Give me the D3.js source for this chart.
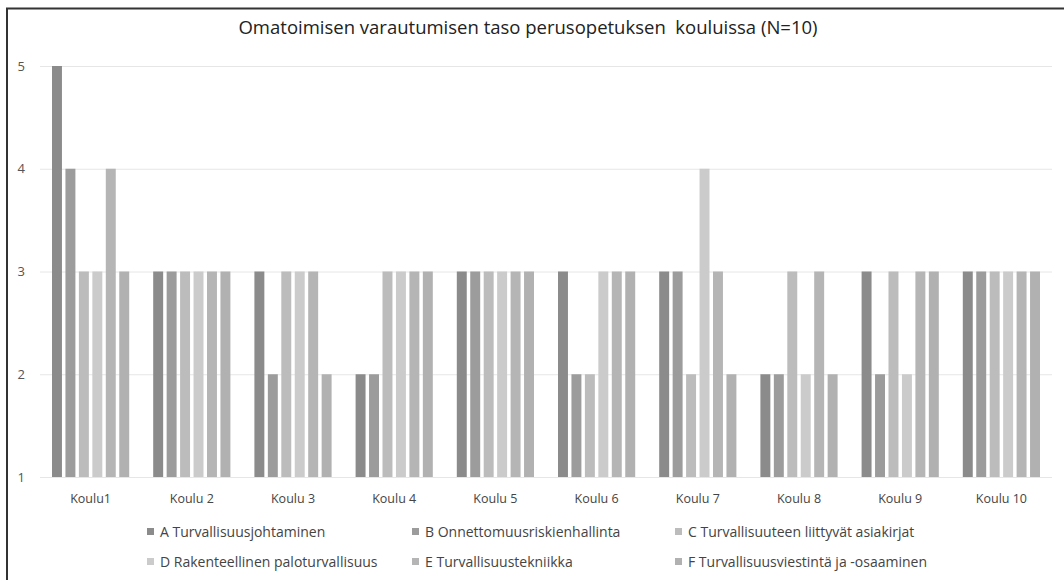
<!DOCTYPE html>
<html><head><meta charset="utf-8">
<script src="https://cdn.jsdelivr.net/npm/d3@7"></script>
<style>body{margin:0;background:#fff}svg{display:block}</style>
</head><body><svg id="c" width="1064" height="580"></svg>
<script>
const categories = ["Koulu1","Koulu 2","Koulu 3","Koulu 4","Koulu 5","Koulu 6","Koulu 7","Koulu 8","Koulu 9","Koulu 10"];
const seriesNames = ["A Turvallisuusjohtaminen","B Onnettomuusriskienhallinta","C Turvallisuuteen liittyvät asiakirjat","D Rakenteellinen paloturvallisuus","E Turvallisuustekniikka","F Turvallisuusviestintä ja -osaaminen"];
const seriesA = [5,3,3,2,3,3,3,2,3,3];
const seriesB = [4,3,2,2,3,2,3,2,2,3];
const seriesC = [3,3,3,3,3,2,2,3,3,3];
const seriesD = [3,3,3,3,3,3,4,2,2,3];
const seriesE = [4,3,3,3,3,3,3,3,3,3];
const seriesF = [3,3,2,3,3,3,2,2,3,3];
const yTicks = [1,2,3,4,5];
const colors = ["#8b8b8b","#9c9c9c","#bcbcbc","#cbcbcb","#b5b5b5","#b1b1b1"];
const title = "Omatoimisen varautumisen taso perusopetuksen  kouluissa (N=10)";

const allSeries = [seriesA,seriesB,seriesC,seriesD,seriesE,seriesF];
const svg = d3.select("#c");
const font = "'Open Sans', sans-serif";

// frame
svg.append("line").attr("x1",6).attr("x2",1064).attr("y1",8.5).attr("y2",8.5).attr("stroke","#333").attr("stroke-width",2);
svg.append("line").attr("x1",7).attr("x2",7).attr("y1",8).attr("y2",580).attr("stroke","#333").attr("stroke-width",2);

svg.append("text").attr("x",528).attr("y",34).attr("text-anchor","middle")
  .attr("font-family",font).attr("font-size",18.5).attr("fill","#222").style("white-space","pre").text(title);

const x0 = d3.scaleBand().domain(categories).range([40,1052]);
const x1 = d3.scaleBand().domain(seriesNames).range([12, x0.bandwidth()-12]).paddingInner(0.26);
const y = d3.scaleLinear().domain([1,5]).range([477,66]);

const yAxis = svg.append("g").attr("transform","translate(40,0)")
  .call(d3.axisLeft(y).tickValues(yTicks).tickSize(-1012).tickFormat(d3.format("d")));
yAxis.select(".domain").remove();
yAxis.selectAll(".tick line").attr("stroke","#e6e6e6");
yAxis.selectAll(".tick text").attr("x",-15).attr("font-family",font).attr("font-size",13).attr("fill","#555");

const groups = svg.append("g").selectAll("g").data(categories).join("g")
  .attr("transform",d=>`translate(${x0(d)},0)`);
groups.selectAll("rect").data((d,i)=>seriesNames.map((s,j)=>({s,j,v:allSeries[j][i]})))
  .join("rect").attr("x",d=>x1(d.s)).attr("width",x1.bandwidth())
  .attr("y",d=>y(d.v)).attr("height",d=>y(1)-y(d.v)).attr("fill",d=>colors[d.j]);

const xAxis = svg.append("g").attr("transform","translate(0,477)")
  .call(d3.axisBottom(x0).tickSize(0));
xAxis.select(".domain").remove();
xAxis.selectAll(".tick text").attr("y",0).attr("dy",0).attr("transform","translate(0,26)").attr("font-family",font).attr("font-size",12.5).attr("fill","#444");

const legX = [147,412,675], legY = [532,562];
const leg = svg.append("g").selectAll("g").data(seriesNames).join("g")
  .attr("transform",(d,i)=>`translate(${legX[i%3]},${legY[Math.floor(i/3)]})`);
leg.append("rect").attr("x",0).attr("y",-4).attr("width",7).attr("height",7).attr("fill",(d,i)=>colors[i]);
leg.append("text").attr("x",13).attr("y",0).attr("dy","0.35em").attr("font-family",font).attr("font-size",14).attr("fill","#444").text(d=>d);
</script></body></html>
